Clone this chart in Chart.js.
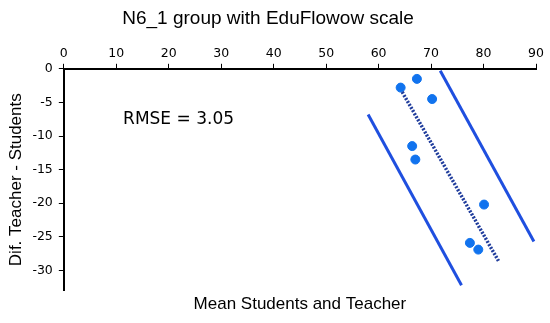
<!DOCTYPE html>
<html>
<head>
<meta charset="utf-8">
<script src="https://cdn.jsdelivr.net/npm/chart.js@4.4.1/dist/chart.umd.min.js"></script>
<style>
  body { margin: 0; background: #fff; }
  #wrap { width: 550px; height: 323px; }
</style>
</head>
<body>
<div id="wrap"><canvas id="myChart"></canvas></div>
<script>
const ctx = document.getElementById('myChart').getContext('2d');

// mean of students and teacher vs difference teacher - students
const meanX = [67.3, 64.2, 70.2, 66.4, 67.0, 80.1, 77.4, 79.0];
const diffY = [-1.5, -2.8, -4.5, -11.5, -13.5, -20.2, -25.9, -26.9];

// regression line and the two limit lines
const fitX = [64.5, 83.0];
const fitY = [-3.45, -28.8];
const upperX = [71.75, 89.6];
const upperY = [-0.3, -25.7];
const lowerX = [58.0, 75.8];
const lowerY = [-6.8, -32.2];

const rmseText = 'RMSE = 3.05';

const toPts = (xs, ys) => xs.map((x, i) => ({x: x, y: ys[i]}));

const textPlugin = {
    id: 'rmse',
    afterDatasetsDraw(chart) {
        const c = chart.ctx;
        const sx = chart.scales.x, sy = chart.scales.y;
        c.save();
        c.font = '17px "DejaVu Sans"';
        c.fillStyle = '#000';
        c.textBaseline = 'middle';
        c.fillText(rmseText, sx.getPixelForValue(11.3), sy.getPixelForValue(-7.6));
        c.restore();
    }
};

const myChart = new Chart(ctx, {
    type: 'scatter',
    data: {
        datasets: [
            {
                data: toPts(upperX, upperY),
                showLine: true,
                borderColor: '#1f4fdf',
                borderWidth: 3,
                pointRadius: 0
            },
            {
                data: toPts(lowerX, lowerY),
                showLine: true,
                borderColor: '#1f4fdf',
                borderWidth: 3,
                pointRadius: 0
            },
            {
                data: toPts(fitX, fitY),
                showLine: true,
                borderColor: '#1f3c9c',
                borderWidth: 3.5,
                borderDash: [2, 1.5],
                pointRadius: 0
            },
            {
                data: toPts(meanX, diffY),
                backgroundColor: '#1173ee',
                borderColor: '#1173ee',
                pointRadius: 4.5
            }
        ]
    },
    options: {
        responsive: true,
        maintainAspectRatio: false,
        animation: false,
        layout: { padding: { left: 0, right: 14, top: 0, bottom: 8 } },
        plugins: {
            legend: { display: false },
            tooltip: { enabled: false },
            title: {
                display: true,
                text: 'N6_1 group with EduFlowow scale',
                color: '#000',
                font: { family: '"Liberation Sans", Arial', size: 19, weight: 'normal' },
                padding: { top: 7, bottom: 13 }
            }
        },
        scales: {
            x: {
                type: 'linear',
                position: 'top',
                min: 0,
                max: 90,
                ticks: {
                    stepSize: 10,
                    color: '#000',
                    padding: 3,
                    font: { family: '"DejaVu Sans", Verdana', size: 12.5 }
                },
                grid: { drawOnChartArea: false, tickLength: 5, color: '#000' },
                border: { color: '#000', width: 2 }
            },
            x2: {
                type: 'linear',
                position: 'bottom',
                display: true,
                min: 0,
                max: 90,
                ticks: { display: false },
                grid: { display: false, drawTicks: false },
                border: { display: false },
                title: {
                    display: true,
                    text: 'Mean Students and Teacher',
                    color: '#000',
                    font: { family: '"Liberation Sans", Arial', size: 17 },
                    padding: { top: 4, bottom: 0 }
                }
            },
            y: {
                type: 'linear',
                min: -33,
                max: 0,
                afterBuildTicks: s => { s.ticks = s.ticks.filter(t => t.value % 5 === 0); },
                ticks: {
                    stepSize: 5,
                    color: '#000',
                    padding: 6,
                    font: { family: '"DejaVu Sans", Verdana', size: 12.5 }
                },
                grid: { drawOnChartArea: false, tickLength: 5, color: '#000' },
                border: { color: '#000', width: 2 },
                title: {
                    display: true,
                    text: 'Dif. Teacher - Students',
                    color: '#000',
                    font: { family: '"Liberation Sans", Arial', size: 17 },
                    padding: { top: 6, bottom: 0 }
                }
            }
        }
    },
    plugins: [textPlugin]
});
</script>
</body>
</html>
